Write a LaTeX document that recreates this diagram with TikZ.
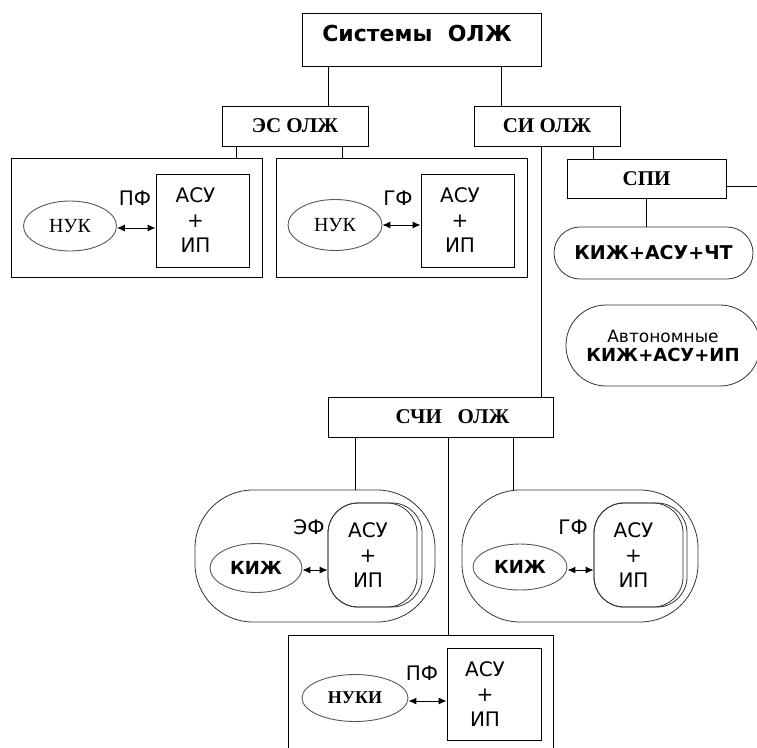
\documentclass[tikz,border=0pt]{standalone}
\usepackage{fontspec}
\newfontfamily\verd{DejaVu Sans}
\newfontfamily\tms{Liberation Serif}
\usetikzlibrary{shapes.geometric,arrows.meta}

\tikzset{
  box/.style={draw, line width=0.9pt, inner sep=0pt},
  oval/.style={draw=black!65, ellipse, line width=0.9pt, inner sep=0pt},
  pill/.style={draw=black!80, line width=0.8pt, inner sep=0pt},
  lnk/.style={line width=0.8pt},
  dbl/.style={{Latex[length=8pt,width=7pt]}-{Latex[length=8pt,width=7pt]}, line width=1pt},
  asutxt/.style={font=\verd\fontsize{20}{25}\selectfont, align=center},
  lbl/.style={font=\verd\fontsize{20}{24}\selectfont, inner sep=0pt},
  hdr/.style={font=\tms\bfseries\fontsize{21}{24}\selectfont},
  serf/.style={font=\tms\fontsize{20}{24}\selectfont},
  bsans/.style={font=\verd\bfseries\fontsize{18}{22}\selectfont}
}

\begin{document}
\begin{tikzpicture}[x=1pt,y=-1pt]

  \useasboundingbox (0,0) rectangle (757,747);
  \clip (0,0) rectangle (757,747);

  % top of the tree
  \node[box, minimum width=239, minimum height=53] (sys) at (421.5,39.5) {};
  \node[font=\verd\bfseries\fontsize{22}{26}\selectfont] (systxt) at (417,33) {Системы\ \ ОЛЖ};

  \node[box, hdr, minimum width=146, minimum height=40] (es) at (295,126) {ЭС ОЛЖ};
  \node[box, hdr, minimum width=146, minimum height=40] (si) at (547,126) {СИ ОЛЖ};

  % ES branch
  \node[box, minimum width=251, minimum height=119] (es1) at (136.5,217.5) {};
  \node[box, minimum width=251, minimum height=119] (es2) at (401.5,217.5) {};

  \node[oval, serf, minimum width=93, minimum height=50] (nuk1) at (70,226) {НУК};
  \node[box, asutxt, minimum width=93, minimum height=93] (asu1) at (202.5,220.5) {\hspace*{-14pt}АСУ\\\hspace*{-14pt}+\\\hspace*{-14pt}ИП};
  \node[lbl] (pf1) at (135,198) {ПФ};

  \node[oval, serf, minimum width=94, minimum height=51] (nuk2) at (335,225) {НУК};
  \node[box, asutxt, minimum width=93, minimum height=93] (asu2) at (467.5,220.5) {\hspace*{-15pt}АСУ\\\hspace*{-15pt}+\\\hspace*{-15pt}ИП};
  \node[lbl] (gf1) at (398,198) {ГФ};

  % SI branch
  \node[box, hdr, minimum width=159, minimum height=39] (spi) at (646.5,178.5) {СПИ};
  \coordinate (spiout) at (757,186);
  \node[pill, font=\verd\bfseries\fontsize{19}{22}\selectfont, rounded corners=26, minimum width=199, minimum height=52] (kac) at (653.5,253) {КИЖ+АСУ+ЧТ};
  \node[pill, rounded corners=40, minimum width=194, minimum height=81, align=center,
        font=\verd\fontsize{17}{19}\selectfont] (auto) at (663,345.5)
        {Автономные\\{\bfseries\fontsize{18}{19}\selectfont КИЖ+АСУ+ИП}};

  \node[box, hdr, minimum width=225, minimum height=40] (schi) at (440.5,417) {\hspace*{24pt}СЧИ\ \ \ ОЛЖ};

  % SCHI branch
  \node[pill, rounded corners=58, minimum width=240, minimum height=132] (schl) at (315,556) {};
  \node[pill, rounded corners=58, minimum width=236, minimum height=132] (schr) at (580,556) {};

  \node[pill, rounded corners=30, minimum width=89, minimum height=104] (asulin) at (372.5,555) {};
  \node[pill, asutxt, rounded corners=30, minimum width=94, minimum height=104] (asul) at (375,555) {\hspace*{-14pt}АСУ\\\hspace*{-14pt}+\\\hspace*{-14pt}ИП};
  \node[oval, bsans, minimum width=92, minimum height=49] (kizhl) at (256,568) {КИЖ};
  \node[lbl] (ef) at (309,527) {ЭФ};

  \node[pill, rounded corners=30, minimum width=89, minimum height=104] (asurin) at (638.5,555) {};
  \node[pill, asutxt, rounded corners=30, minimum width=93, minimum height=104] (asur) at (640.5,555) {\hspace*{-14pt}АСУ\\\hspace*{-14pt}+\\\hspace*{-14pt}ИП};
  \node[oval, bsans, minimum width=94, minimum height=46] (kizhr) at (520,567) {КИЖ};
  \node[lbl] (gf2) at (573,527) {ГФ};

  \node[box, minimum width=265, minimum height=125] (bot) at (420.5,697.5) {};
  \node[oval, font=\tms\bfseries\fontsize{18}{22}\selectfont, minimum width=106, minimum height=47] (nuki) at (355,698) {НУКИ};
  \node[box, asutxt, minimum width=94, minimum height=92] (asub) at (494,694) {\hspace*{-18pt}АСУ\\\hspace*{-18pt}+\\\hspace*{-18pt}ИП};
  \node[lbl] (pf2) at (422,673) {ПФ};

  % tree lines
  \draw[lnk] ([xshift=33pt]es.north) -- ([xshift=33pt]es.north |- sys.south);
  \draw[lnk] ([xshift=-46pt]si.north) -- ([xshift=-46pt]si.north |- sys.south);
  \draw[lnk] ([xshift=-59pt]es.south) -- ([xshift=-59pt]es.south |- es1.north);
  \draw[lnk] ([xshift=47pt]es.south) -- ([xshift=47pt]es.south |- es2.north);
  \draw[lnk] ([xshift=-6pt]si.south) -- ([xshift=-6pt]si.south |- schi.north);
  \draw[lnk] ([xshift=46pt]si.south) -- ([xshift=46pt]si.south |- spi.north);
  \draw[lnk] (spi.east |- spiout) -- (spiout);
  \draw[lnk] (spi.south) -- (spi.south |- kac.north);
  \draw[lnk] ([xshift=-85.5pt]schi.south) -- ([xshift=-85.5pt]schi.south |- schl.north);
  \draw[lnk] ([xshift=7.5pt]schi.south) -- ([xshift=7.5pt]schi.south |- bot.north);
  \draw[lnk] ([xshift=72.5pt]schi.south) -- ([xshift=72.5pt]schi.south |- schr.north);

  % links
  \draw[dbl] ([yshift=-2pt]nuk1.east) -- ([yshift=-2pt]nuk1.east -| asu1.west);
  \draw[dbl] (nuk2.east) -- (nuk2.east -| asu2.west);
  \draw[dbl] ([yshift=-2pt]kizhl.east) -- ([yshift=-2pt]kizhl.east -| asul.west);
  \draw[dbl] ([yshift=-3pt]kizhr.east) -- ([yshift=-3pt]kizhr.east -| asur.west);
  \draw[dbl] ([yshift=-3pt]nuki.east) -- ([yshift=-3pt]nuki.east -| asub.west);

\end{tikzpicture}
\end{document}
